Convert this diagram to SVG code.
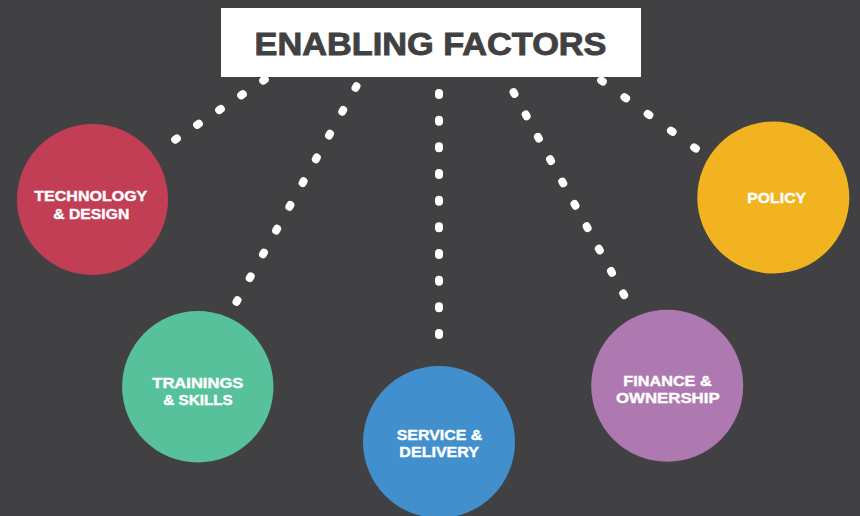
<svg xmlns="http://www.w3.org/2000/svg" width="860" height="516" viewBox="0 0 860 516">
  <style>
    .dots { fill: none; stroke: #ffffff; stroke-width: 8; stroke-linecap: round; }
    .label { font-family: "Liberation Sans", Arial, sans-serif; font-weight: bold; font-size: 15px; fill: #ffffff; stroke: #ffffff; stroke-width: 0.4; text-anchor: middle; }
    .title { font-family: "Liberation Sans", Arial, sans-serif; font-weight: bold; font-size: 32px; fill: #414143; stroke: #414143; stroke-width: 0.9; text-anchor: middle; }
  </style>

  <!-- background -->
  <rect x="0" y="0" width="860" height="516" fill="#414143"/>

  <!-- dotted connectors fanning out from the title -->
  <g id="connectors">
    <path class="dots" d="M264.83 79.44 L175.17 139.56" stroke-dasharray="2 24.49"/>
    <path class="dots" d="M356.49 86.13 L236.51 301.87" stroke-dasharray="2 25.21"/>
    <path class="dots" d="M439 93 L439 335" stroke-dasharray="2 24.67"/>
    <path class="dots" d="M513.52 92.12 L624.18 295.18" stroke-dasharray="2 23.47"/>
    <path class="dots" d="M601.19 80.42 L695.81 148.58" stroke-dasharray="2 26.66"/>
  </g>

  <!-- title -->
  <g id="title">
    <rect x="221" y="8" width="420" height="69" fill="#ffffff"/>
    <text class="title" x="430.5" y="55" textLength="352" lengthAdjust="spacingAndGlyphs">ENABLING FACTORS</text>
  </g>

  <g id="technology">
    <circle cx="92.5" cy="199.5" r="75.5" fill="#c23e55"/>
    <text class="label" x="90.8" y="201" textLength="113" lengthAdjust="spacingAndGlyphs">TECHNOLOGY</text>
    <text class="label" x="91.3" y="219" textLength="76" lengthAdjust="spacingAndGlyphs">&amp; DESIGN</text>
  </g>

  <g id="trainings">
    <circle cx="197.8" cy="386.7" r="75.7" fill="#56c19b"/>
    <text class="label" x="197.8" y="388.3" textLength="91" lengthAdjust="spacingAndGlyphs">TRAININGS</text>
    <text class="label" x="198" y="405.3" textLength="69.4" lengthAdjust="spacingAndGlyphs">&amp; SKILLS</text>
  </g>

  <g id="service">
    <circle cx="439" cy="442" r="76" fill="#418fcc"/>
    <text class="label" x="439.5" y="440" textLength="85.6" lengthAdjust="spacingAndGlyphs">SERVICE &amp;</text>
    <text class="label" x="439.2" y="456.7" textLength="79.7" lengthAdjust="spacingAndGlyphs">DELIVERY</text>
  </g>

  <g id="finance">
    <circle cx="667.2" cy="385.7" r="76" fill="#ae78b0"/>
    <text class="label" x="667.5" y="386" textLength="88.4" lengthAdjust="spacingAndGlyphs">FINANCE &amp;</text>
    <text class="label" x="667.8" y="402.5" textLength="103.7" lengthAdjust="spacingAndGlyphs">OWNERSHIP</text>
  </g>

  <g id="policy">
    <circle cx="773.3" cy="197.5" r="76" fill="#f2b320"/>
    <text class="label" x="776.7" y="203.3" textLength="58.7" lengthAdjust="spacingAndGlyphs">POLICY</text>
  </g>
</svg>
